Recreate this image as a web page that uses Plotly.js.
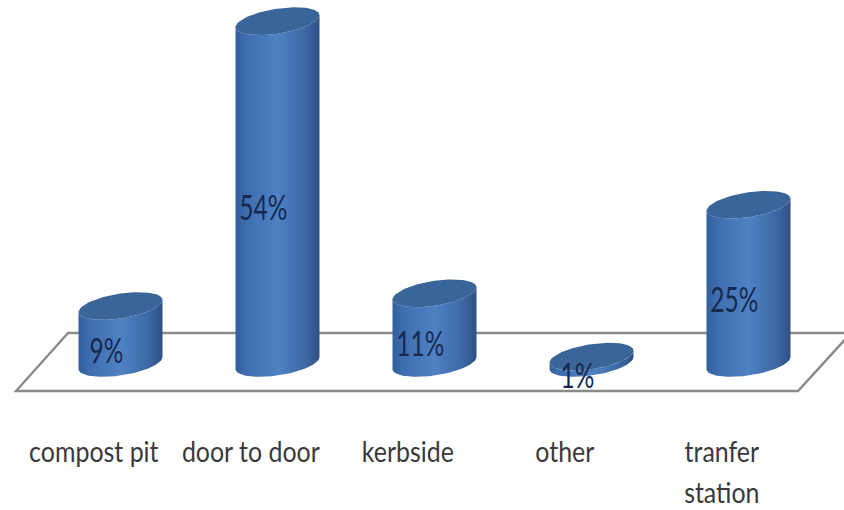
<!DOCTYPE html>
<html>
<head>
<meta charset="utf-8">
<script src="https://cdn.plot.ly/plotly-3.0.1.min.js"></script>
<style>
html,body{margin:0;padding:0;background:#fff;overflow:hidden}
#chart{width:844px;height:510px}
</style>
</head>
<body>
<div id="chart"></div>
<script>
// Waste disposal methods, share of respondents (%)
const categories = ['compost pit', 'door to door', 'kerbside', 'other', 'tranfer<br>station'];
const shares = [9, 54, 11, 1, 25];

const WIDTH = 844, HEIGHT = 510;
const axisBottomPx = 432;          // bottom of the plot area, tick labels hang below it
const baselinePx = 363;            // page row of value 0
const pxPerPct = 6.33;             // rows per percentage point
const firstCenterPx = 120.5;       // column of the first cylinder
const stepPx = 157;                // columns between cylinders
const tickSquash = 0.86;           // horizontal condensing of the category labels
const valueSquash = 0.72;          // horizontal condensing of the value labels

// Cylinder cross-section, in axis units
const radiusX = 42 / stepPx;
const radiusY = 12.5 / pxPerPct;
const tilt = 6 / pxPerPct;

const xRange = [-firstCenterPx / stepPx, (WIDTH - firstCenterPx) / stepPx];
const yRange = [(baselinePx - axisBottomPx) / pxPerPct, baselinePx / pxPerPct];

// Point on the tilted ellipse around (cx, cy) at angle t
const rim = (cx, cy, t) => [cx + radiusX * Math.cos(t), cy + radiusY * Math.sin(t) + tilt * Math.cos(t)];
function arc(cx, cy, from, to, n) {
  const pts = [];
  for (let k = 0; k <= n; k++) pts.push(rim(cx, cy, from + (to - from) * k / n));
  return pts;
}

const traces = [];
shares.forEach((v, i) => {
  // Side wall: lower rim from right to left, then the top rim back across its front
  const wall = arc(i, 0, 0, -Math.PI, 48).concat(arc(i, v, -Math.PI, 0, 48));
  wall.push(wall[0]);
  traces.push({
    type: 'scatter', mode: 'lines', fill: 'toself',
    x: wall.map(p => p[0]), y: wall.map(p => p[1]),
    line: {width: 0},
    fillgradient: {type: 'horizontal', colorscale: [
      [0, '#325f9c'], [0.12, '#3d6dae'], [0.5, '#4f82c3'], [0.82, '#3d69a6'], [1, '#2e5184']
    ]},
    hoverinfo: 'skip'
  });
  // Top cap
  const cap = arc(i, v, 0, 2 * Math.PI, 96);
  traces.push({
    type: 'scatter', mode: 'lines', fill: 'toself',
    x: cap.map(p => p[0]), y: cap.map(p => p[1]),
    line: {width: 0}, fillcolor: '#3a6599',
    hoverinfo: 'skip'
  });
});

// Value labels sit near mid-height, nudged left of the axis of each cylinder
traces.push({
  type: 'scatter', mode: 'text',
  x: shares.map((v, i) => i - 0.09),
  y: shares.map(v => v / 2 - 3.1),
  text: shares.map(v => v + '%'),
  textposition: 'middle center',
  textfont: {family: 'Lato, "Open Sans", sans-serif', size: 34, color: '#17284f'},
  cliponaxis: false,
  hoverinfo: 'skip'
});

// Floor plate outline in page fractions
const px = c => (c / WIDTH).toFixed(4);
const py = r => (1 - r / HEIGHT).toFixed(4);
const floorPath = `M ${px(68)} ${py(333)} L ${px(16)} ${py(391)} L ${px(798)} ${py(391)} L ${px(851)} ${py(333)} Z`;

const layout = {
  width: WIDTH, height: HEIGHT,
  margin: {l: 0, r: 0, t: 0, b: 0},
  paper_bgcolor: '#fff', plot_bgcolor: 'rgba(0,0,0,0)',
  showlegend: false,
  xaxis: {
    type: 'linear', range: xRange, showgrid: false, zeroline: false, showline: false,
    // Category labels are offset left of the cylinders by the 3D projection
    tickmode: 'array',
    tickvals: categories.map((c, i) => i - 0.17),
    ticktext: categories,
    ticks: '', tickangle: 0,
    tickfont: {family: 'Lato, "Open Sans", sans-serif', size: 29, color: '#3a3a3a'},
    automargin: false
  },
  yaxis: {
    range: yRange, domain: [1 - axisBottomPx / HEIGHT, 1],
    visible: false, showgrid: false, zeroline: false
  },
  shapes: [{
    type: 'path', xref: 'paper', yref: 'paper', layer: 'below',
    path: floorPath, line: {color: '#8a8a8a', width: 2.4}, fillcolor: 'rgba(0,0,0,0)'
  }]
};

// Condense a label about its anchor, keeping the placement Plotly gave it
function squash(t, factor) {
  const ax = parseFloat(t.getAttribute('x')) || 0;
  const base = t.getAttribute('transform') || '';
  t.setAttribute('transform', `${base} translate(${ax},0) scale(${factor},1) translate(${-ax},0)`);
}

Plotly.newPlot('chart', traces, layout, {displayModeBar: false, staticPlot: true}).then(gd => {
  // Open up the line spacing of the two-line category label
  gd.querySelectorAll('.xtick tspan.line').forEach(t => {
    if (parseFloat(t.getAttribute('dy')) > 0) t.setAttribute('dy', '1.42em');
  });
  gd.querySelectorAll('.xtick text').forEach(t => squash(t, tickSquash));
  gd.querySelectorAll('.textpoint text').forEach(t => squash(t, valueSquash));
});
</script>
</body>
</html>
